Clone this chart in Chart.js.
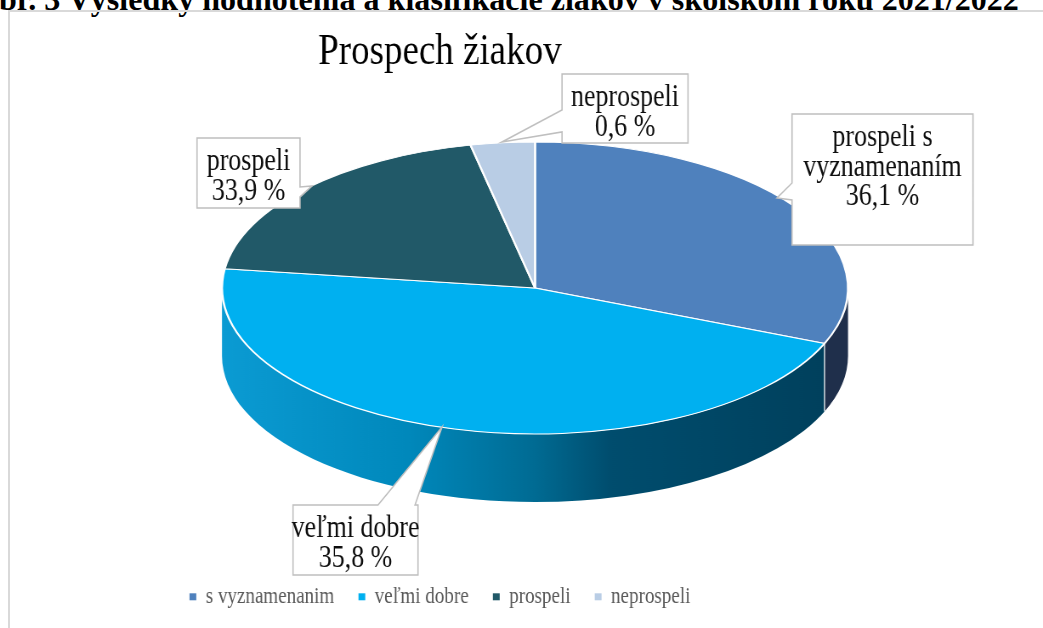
<!DOCTYPE html>
<html>
<head>
<meta charset="utf-8">
<script src="https://cdn.jsdelivr.net/npm/chart.js@4.4.0/dist/chart.umd.min.js"></script>
<style>
  html, body { margin: 0; padding: 0; background: #fff; overflow: hidden; }
  #page { position: relative; width: 1043px; height: 628px; overflow: hidden; }
  #caption { position: absolute; left: -1px; top: -14px; font: bold 28px 'Liberation Serif', 'Times New Roman', serif;
             white-space: nowrap; line-height: 1; color: #000; }
  #frame { position: absolute; left: 8px; top: 10px; width: 1100px; height: 700px;
           border: 2px solid #d9d9d9; box-sizing: border-box; }
  #chart { position: absolute; left: 0; top: 0; }
</style>
</head>
<body>
<div id="page">
  <div id="caption">br. 3 Výsledky hodnotenia a klasifikácie žiakov v školskom roku 2021/2022</div>
  <div id="frame"></div>
  <!-- the chart in the picture is squeezed sideways: draw wide, show narrow -->
  <canvas id="chart" width="1227" height="628" style="width:1043px;height:628px"></canvas>
</div>
<script>
'use strict';

// ─── DATA ────────────────────────────────────────────────────────────────────
const categories = ['s vyznamenanim', 'veľmi dobre', 'prospeli', 'neprospeli'];
// slice sizes as drawn in the picture
const sliceShares = [31.2, 45.9, 19.6, 3.3];
// callout texts as printed on the picture
const calloutNames = [['prospeli s', 'vyznamenaním'], ['veľmi dobre'], ['prospeli'], ['neprospeli']];
const calloutPercents = [36.1, 35.8, 33.9, 0.6];

// ─── STYLE / LAYOUT (screen pixels) ──────────────────────────────────────────
const SX = 1043 / 1227;            // horizontal squeeze of the canvas
const ix = x => x / SX;            // screen x -> canvas x
const topColors = ['#4f81bd', '#00b0f0', '#215968', '#b9cde5'];
const sideColors = ['#1f2f4b', null, '#163c46', '#7d91ab'];
const PIE = { cx: 535, cy: 288, rx: 313, ry: 146, depth: 68 };
const FONT = "'Liberation Serif', 'Times New Roman', serif";

// box [x, y, w, h], which edge carries the pointer, pointer base range, tip
const CALLOUTS = [
  { box: [792, 114, 181, 131], side: 'left',  base: [183, 200], tip: [777, 198] },
  { box: [293, 505, 125, 70],  side: 'top',   base: [378, 415], tip: [442, 427] },
  { box: [197, 138, 103, 70],  side: 'right', base: [187, 197], tip: [312, 186] },
  { box: [562, 74, 126, 69],   side: 'left',  base: [110, 132], tip: [502, 142] }
];

// fit the clipped caption to the width it has in the picture
(function fitCaption() {
  const el = document.getElementById('caption');
  const w = el.getBoundingClientRect().width;
  const size = 28 * 1020 / w;
  el.style.fontSize = size.toFixed(2) + 'px';
  el.style.top = (10 - 0.8375 * size).toFixed(1) + 'px';
})();

function sideFill(ctx, i) {
  if (sideColors[i]) return sideColors[i];
  const g = ctx.createLinearGradient(ix(PIE.cx - PIE.rx), 0, ix(PIE.cx + PIE.rx), 0);
  g.addColorStop(0, '#0b9bd3');
  g.addColorStop(0.3, '#0088bb');
  g.addColorStop(0.5, '#006b93');
  g.addColorStop(0.62, '#004d6e');
  g.addColorStop(1, '#003f5b');
  return g;
}

// ─── 3D PIE: side wall + squashed top ────────────────────────────────────────
const pie3d = {
  id: 'pie3d',
  beforeDatasetsDraw(chart) {
    const ctx = chart.ctx;
    const arcs = chart.getDatasetMeta(0).data;
    const cx = ix(PIE.cx), rx = ix(PIE.rx), cy = PIE.cy, ry = PIE.ry, depth = PIE.depth;
    const TAU = Math.PI * 2;

    arcs.forEach((arc, i) => {
      [-TAU, 0, TAU].forEach(shift => {
        const a = Math.max(arc.startAngle + shift, 0);
        const b = Math.min(arc.endAngle + shift, Math.PI);
        if (b <= a) return;
        ctx.beginPath();
        ctx.ellipse(cx, cy, rx, ry, 0, a, b);
        ctx.ellipse(cx, cy + depth, rx, ry, 0, b, a, true);
        ctx.closePath();
        ctx.fillStyle = sideFill(ctx, i);
        ctx.fill();
      });
    });

    // seams between slices on the wall
    ctx.save();
    ctx.strokeStyle = 'rgba(255,255,255,0.9)';
    ctx.lineWidth = 1.4;
    arcs.forEach(arc => {
      const t = ((arc.startAngle % TAU) + TAU) % TAU;
      if (t > 0.01 && t < Math.PI - 0.01) {
        const x = cx + rx * Math.cos(t), y = cy + ry * Math.sin(t);
        ctx.beginPath();
        ctx.moveTo(x, y);
        ctx.lineTo(x, y + depth);
        ctx.stroke();
      }
    });
    ctx.restore();

    // squash the library's round pie onto the top ellipse
    const R = arcs[0].outerRadius;
    ctx.save();
    ctx.translate(cx, cy);
    ctx.scale(rx / R, ry / R);
    ctx.translate(-arcs[0].x, -arcs[0].y);
  },
  afterDatasetsDraw(chart) {
    chart.ctx.restore();
  }
};

// ─── CALLOUT LABELS ──────────────────────────────────────────────────────────
function calloutPath(ctx, c) {
  const [x, y, w, h] = c.box;
  const [b1, b2] = c.base;
  const [tx, ty] = c.tip;
  ctx.beginPath();
  ctx.moveTo(ix(x), y);
  if (c.side === 'top') { ctx.lineTo(ix(b1), y); ctx.lineTo(ix(tx), ty); ctx.lineTo(ix(b2), y); }
  ctx.lineTo(ix(x + w), y);
  if (c.side === 'right') { ctx.lineTo(ix(x + w), b1); ctx.lineTo(ix(tx), ty); ctx.lineTo(ix(x + w), b2); }
  ctx.lineTo(ix(x + w), y + h);
  ctx.lineTo(ix(x), y + h);
  if (c.side === 'left') { ctx.lineTo(ix(x), b2); ctx.lineTo(ix(tx), ty); ctx.lineTo(ix(x), b1); }
  ctx.closePath();
}

const calloutLabels = {
  id: 'calloutLabels',
  afterDraw(chart) {
    const ctx = chart.ctx;
    ctx.save();
    CALLOUTS.forEach((c, i) => {
      calloutPath(ctx, c);
      ctx.fillStyle = '#fff';
      ctx.fill();
      ctx.strokeStyle = '#bfbfbf';
      ctx.lineWidth = 1.6;
      ctx.stroke();

      const lines = calloutNames[i].concat(calloutPercents[i].toFixed(1).replace('.', ',') + ' %');
      ctx.fillStyle = '#0d0d0d';
      ctx.font = '30.5px ' + FONT;
      ctx.textAlign = 'center';
      ctx.textBaseline = 'middle';
      const [x, y, w] = c.box;
      lines.forEach((t, k) => ctx.fillText(t, ix(x + w / 2), y + 24 + k * 29.5));
    });
    ctx.restore();
  }
};

// ─── CHART ───────────────────────────────────────────────────────────────────
Chart.defaults.font.family = FONT;

new Chart(document.getElementById('chart'), {
  type: 'pie',
  data: {
    labels: categories,
    datasets: [{
      data: sliceShares,
      backgroundColor: topColors,
      borderColor: '#ffffff',
      borderWidth: 1.6,
      clip: false
    }]
  },
  options: {
    responsive: false,
    animation: false,
    events: [],
    layout: { padding: { top: 16, right: 192, bottom: 10, left: 0 } },
    plugins: {
      title: {
        display: true,
        text: 'Prospech žiakov',
        color: '#000',
        font: { family: FONT, size: 43.5, weight: 'normal' },
        padding: { top: 10, bottom: 10 }
      },
      legend: {
        position: 'bottom',
        labels: {
          color: '#595959',
          font: { family: FONT, size: 22.4 },
          boxWidth: 8, boxHeight: 7, padding: 28.5,
          generateLabels(chart) {
            return Chart.overrides.doughnut.plugins.legend.labels.generateLabels(chart)
              .map(l => ({ ...l, lineWidth: 0, strokeStyle: 'rgba(0,0,0,0)' }));
          }
        }
      },
      tooltip: { enabled: false }
    }
  },
  plugins: [pie3d, calloutLabels]
});
</script>
</body>
</html>
